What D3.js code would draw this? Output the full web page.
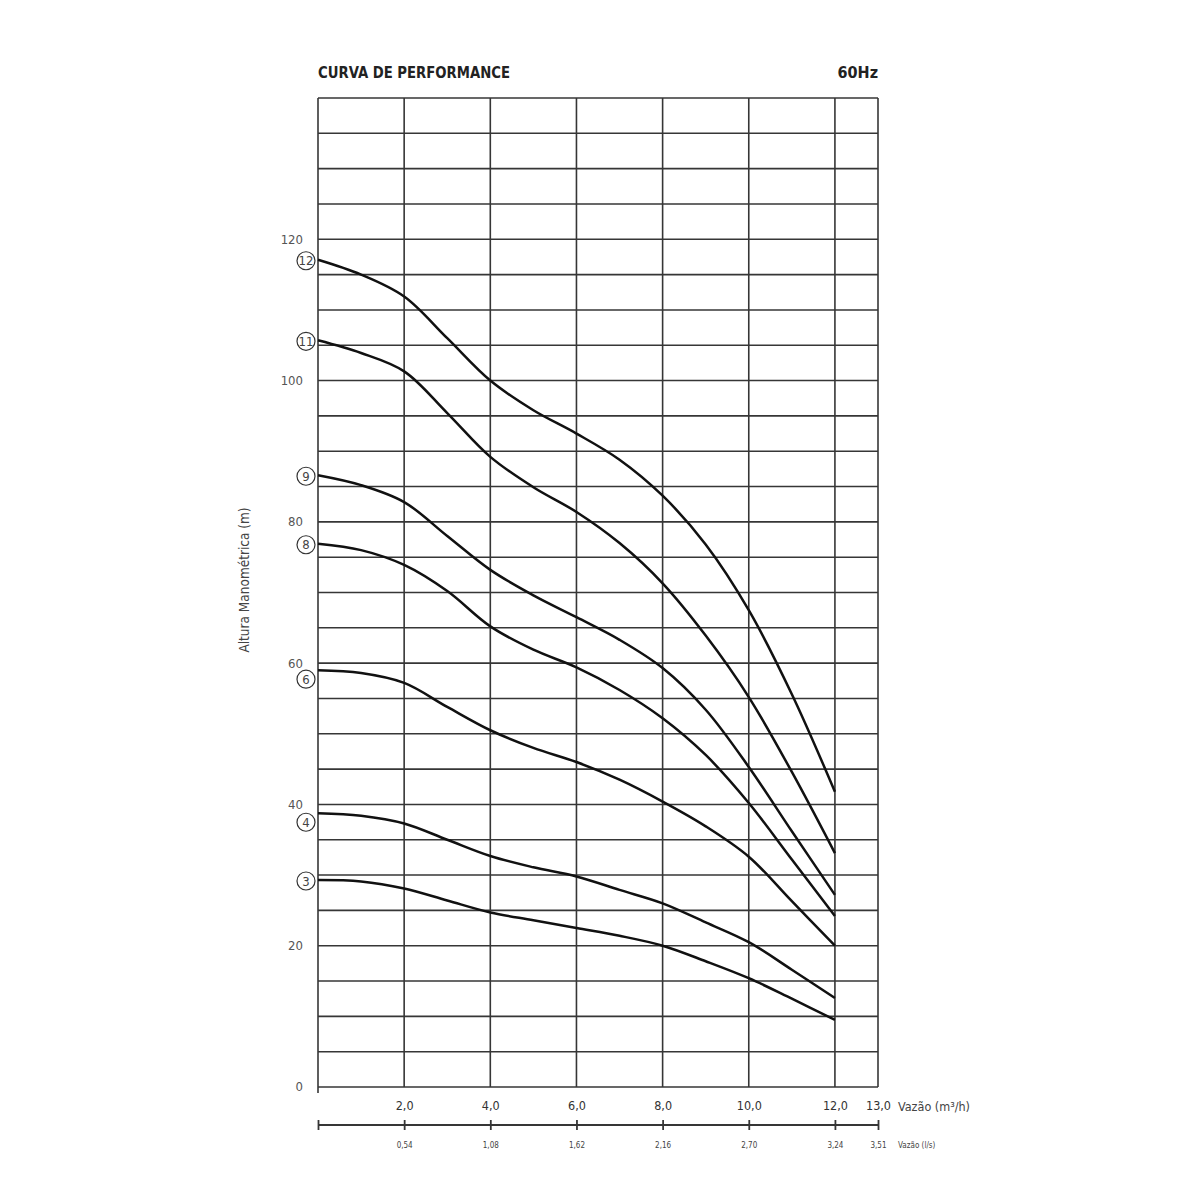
<!DOCTYPE html>
<html>
<head>
<meta charset="utf-8">
<script src="https://cdn.jsdelivr.net/npm/d3@7"></script>
<style>
  body { margin: 0; background: #fff; }
  svg { display: block; }
  text { font-family: "Liberation Sans Narrow", "DejaVu Sans Condensed", "Liberation Sans", sans-serif; }
</style>
</head>
<body>
<svg></svg>
<script>
const flow = [0, 1, 2, 3, 4, 5, 6, 7, 8, 9, 10, 11, 12]

const stages = [12, 11, 9, 8, 6, 4, 3]
const head12 = [117.1, 115, 111.9, 106, 100, 95.8, 92.5, 88.8, 83.7, 76.8, 67.5, 55.6, 41.8]
const head11 = [105.7, 103.9, 101.3, 95.4, 89.2, 84.9, 81.4, 77, 71.3, 63.9, 55.2, 44.6, 33.1]
const head9 = [86.6, 85.2, 82.8, 78, 73.2, 69.6, 66.5, 63.3, 59.3, 53.4, 45.3, 36.2, 27.2]
const head8 = [76.9, 76, 73.9, 70.2, 65.2, 61.9, 59.4, 56.2, 52.2, 47, 40.2, 32.2, 24.2]
const head6 = [59, 58.6, 57.2, 53.8, 50.5, 48, 46, 43.5, 40.4, 36.9, 32.6, 26.3, 20]
const head4 = [38.75, 38.4, 37.3, 35, 32.7, 31.1, 29.8, 27.9, 26, 23.3, 20.5, 16.6, 12.6]
const head3 = [29.3, 29.1, 28.1, 26.4, 24.7, 23.6, 22.5, 21.4, 20, 17.8, 15.4, 12.5, 9.5]
const heads = [head12, head11, head9, head8, head6, head4, head3]

const flowTicks = [2, 4, 6, 8, 10, 12, 13]
const flowLabels = ["2,0", "4,0", "6,0", "8,0", "10,0", "12,0", "13,0"]
const lsLabels = ["0,54", "1,08", "1,62", "2,16", "2,70", "3,24", "3,51"]
const headTicks = [0, 20, 40, 60, 80, 100, 120]

const width = 1200
const height = 1200

const svg = d3.select("svg")
      .attr("width", width)
      .attr("height", height)

const x = d3.scaleLinear().domain([0, 13]).range([318, 878])
const y = d3.scaleLinear().domain([0, 140]).range([1087, 98])

const gridColor = "#363636"

// grid
svg.append("g")
      .selectAll("line")
      .data(d3.range(0, 141, 5))
      .join("line")
      .attr("x1", x(0)).attr("x2", x(13))
      .attr("y1", d => y(d)).attr("y2", d => y(d))
      .attr("stroke", gridColor)
      .attr("stroke-width", 1.6)

svg.append("g")
      .selectAll("line")
      .data([0].concat(flowTicks))
      .join("line")
      .attr("x1", d => x(d)).attr("x2", d => x(d))
      .attr("y1", y(140)).attr("y2", d => d === 0 ? y(0) + 6 : y(0))
      .attr("stroke", gridColor)
      .attr("stroke-width", 1.6)

// curves
const line = d3.line()
      .x((d, i) => x(flow[i]))
      .y(d => y(d))
      .curve(d3.curveCatmullRom.alpha(0.5))

svg.append("g")
      .attr("fill", "none")
      .attr("stroke", "#111")
      .attr("stroke-width", 2.5)
      .selectAll("path")
      .data(heads)
      .join("path")
      .attr("d", line)

// stage markers
const marker = svg.append("g")
      .selectAll("g")
      .data(stages)
      .join("g")
      .attr("transform", (s, i) => {
            let v = heads[i][0]
            let near = Math.round(v / 20) * 20
            let dy = Math.abs(v - near) < 2 ? 9 : 1
            return `translate(${x(0) - 12},${y(v) + dy})`
      })

marker.append("circle")
      .attr("r", 9)
      .attr("fill", "#fff")
      .attr("stroke", "#333")
      .attr("stroke-width", 1.2)

marker.append("text")
      .attr("text-anchor", "middle")
      .attr("dy", "0.36em")
      .attr("font-size", 13)
      .attr("fill", "#444")
      .text(d => d)

// y axis
const yAxis = svg.append("g")
      .attr("transform", `translate(${x(0)},0)`)
      .call(d3.axisLeft(y).tickValues(headTicks).tickSize(0).tickPadding(15))
yAxis.select(".domain").remove()
yAxis.selectAll("text")
      .attr("font-family", "Liberation Sans, sans-serif")
      .attr("font-size", 13)
      .attr("fill", "#555")
      .attr("dy", "0.3em")

svg.append("text")
      .attr("transform", `translate(249,580) rotate(-90)`)
      .attr("text-anchor", "middle")
      .attr("font-size", 13.5)
      .attr("fill", "#444")
      .text("Altura Manométrica (m)")

// flow axis m3/h
const xAxis = svg.append("g")
      .attr("transform", `translate(0,${y(0)})`)
      .call(d3.axisBottom(x).tickValues(flowTicks).tickSize(0).tickPadding(14)
            .tickFormat((d, i) => flowLabels[i]))
xAxis.select(".domain").remove()
xAxis.selectAll("text")
      .attr("font-size", 12.5)
      .attr("fill", "#333")

svg.append("text")
      .attr("x", 898).attr("y", 1111)
      .attr("font-size", 12.5)
      .attr("fill", "#444")
      .text("Vazão (m³/h)")

// flow axis l/s
const lsAxis = svg.append("g")
      .attr("transform", "translate(0,1125)")
      .call(d3.axisBottom(x).tickValues([0].concat(flowTicks)).tickSize(5).tickPadding(12)
            .tickFormat((d, i) => i === 0 ? "" : lsLabels[i - 1]))
lsAxis.select(".domain")
      .attr("d", `M${x(0)},0H${x(13)}`)
      .attr("stroke", gridColor)
      .attr("stroke-width", 1.8)
lsAxis.selectAll(".tick line")
      .attr("y1", -5)
      .attr("stroke", gridColor)
      .attr("stroke-width", 1.8)
lsAxis.selectAll("text")
      .attr("font-size", 8)
      .attr("fill", "#444")

svg.append("text")
      .attr("x", 898).attr("y", 1148)
      .attr("font-size", 8)
      .attr("fill", "#444")
      .text("Vazão (l/s)")

// titles
svg.append("text")
      .attr("x", 318).attr("y", 78)
      .attr("font-size", 16)
      .attr("font-weight", "bold")
      .attr("fill", "#222")
      .attr("textLength", 192)
      .attr("lengthAdjust", "spacingAndGlyphs")
      .text("CURVA DE PERFORMANCE")

svg.append("text")
      .attr("x", 878).attr("y", 78)
      .attr("text-anchor", "end")
      .attr("font-size", 16)
      .attr("font-weight", "bold")
      .attr("fill", "#222")
      .text("60Hz")
</script>
</body>
</html>
